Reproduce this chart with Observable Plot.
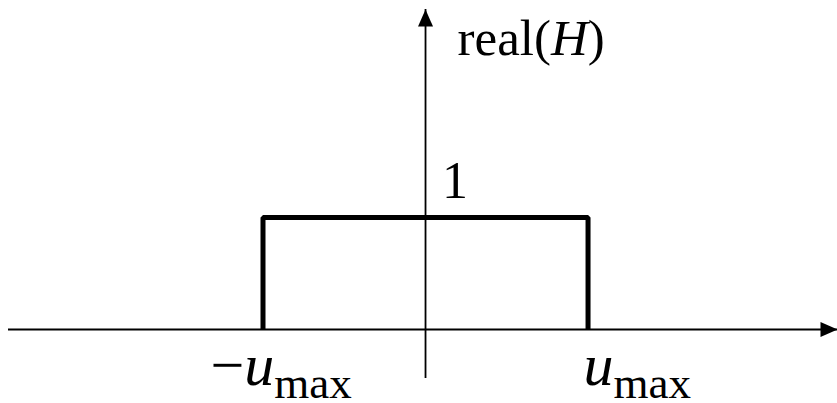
<!DOCTYPE html>
<html>
<head>
<meta charset="utf-8">
<script src="https://cdn.jsdelivr.net/npm/d3@7"></script>
<script src="https://cdn.jsdelivr.net/npm/@observablehq/plot@0.6"></script>
<style>
  html, body { margin: 0; padding: 0; background: white; }
  #chart svg { display: block; }
</style>
</head>
<body>
<div id="chart"></div>
<script>
// Ideal low-pass transfer function: real(H) = 1 for |u| < u_max, 0 elsewhere.
const uMax = 1;
const pulseU = [-uMax, -uMax, uMax, uMax];
const pulseH = [0, 1, 1, 0];

// Extent of the drawn axes, in units of u and H.
const uExtent = [-2.566, 2.535];
const hExtent = [-0.4375, 2.857];

// Labels (*…* = italic, _… = subscript).
const tickU = [-uMax, uMax];
const tickLabels = ["−*u*_max", "*u*_max"];
const levelH = 1;
const levelLabel = "1";
const yTitle = "real(*H*)";

const serif = "'Liberation Serif', 'Times New Roman', Times, serif";

// Filled arrowhead whose tip sits at the dot's position, pointing up.
const arrowHead = {
  draw(ctx) {
    const L = 17, W = 7.5;
    ctx.moveTo(0, 0);
    ctx.lineTo(W, L);
    ctx.lineTo(-W, L);
    ctx.closePath();
  }
};

const heads = [
  {u: uExtent[1], h: 0, rot: 90},
  {u: 0, h: hExtent[1], rot: 0}
];

const chart = Plot.plot({
  width: 837,
  height: 403,
  marginLeft: 8,
  marginRight: 0,
  marginTop: 9,
  marginBottom: 25,
  style: {background: "white", fontFamily: serif, overflow: "visible"},
  x: {domain: uExtent, axis: null},
  y: {domain: hExtent, axis: null},
  marks: [
    Plot.ruleY([0], {stroke: "black", strokeWidth: 1.8}),
    Plot.ruleX([0], {stroke: "black", strokeWidth: 1.8}),
    Plot.dot(heads, {x: "u", y: "h", rotate: "rot", symbol: arrowHead, r: 8, fill: "black"}),
    Plot.line(pulseU, {x: pulseU, y: pulseH, stroke: "black", strokeWidth: 5,
      strokeLinejoin: "miter", strokeLinecap: "butt"}),
    Plot.text([tickLabels[0]], {x: [tickU[0]], y: [0], text: d => d, textAnchor: "start",
      lineAnchor: "bottom", dx: -52.5, dy: 56, fontSize: 60, fill: "black"}),
    Plot.text([tickLabels[1]], {x: [tickU[1]], y: [0], text: d => d, textAnchor: "start",
      lineAnchor: "bottom", dx: -4.5, dy: 56, fontSize: 60, fill: "black"}),
    Plot.text([levelLabel], {x: [0], y: [levelH], text: d => d, textAnchor: "middle",
      lineAnchor: "bottom", dx: 29.5, dy: -19, fontSize: 52, fill: "black"}),
    Plot.text([yTitle], {x: [0], y: [hExtent[1]], text: d => d, textAnchor: "start",
      lineAnchor: "bottom", dx: 32, dy: 45, fontSize: 51, fill: "black"})
  ]
});

// Turn the *italic* and _subscript markup into tspans.
d3.select(chart).selectAll("text").each(function () {
  const s = this.textContent;
  if (!/[*_]/.test(s)) return;
  const el = d3.select(this);
  el.text(null);
  const parts = s.split(/(\*[^*]*\*|_.*$)/).filter(p => p !== "");
  for (const p of parts) {
    if (p.startsWith("*")) {
      el.append("tspan").attr("font-style", "italic").text(p.slice(1, -1));
    } else if (p.startsWith("_")) {
      el.append("tspan").attr("font-size", 45).attr("dy", 13).text(p.slice(1));
    } else {
      el.append("tspan").text(p);
    }
  }
});

document.getElementById("chart").appendChild(chart);
</script>
</body>
</html>
